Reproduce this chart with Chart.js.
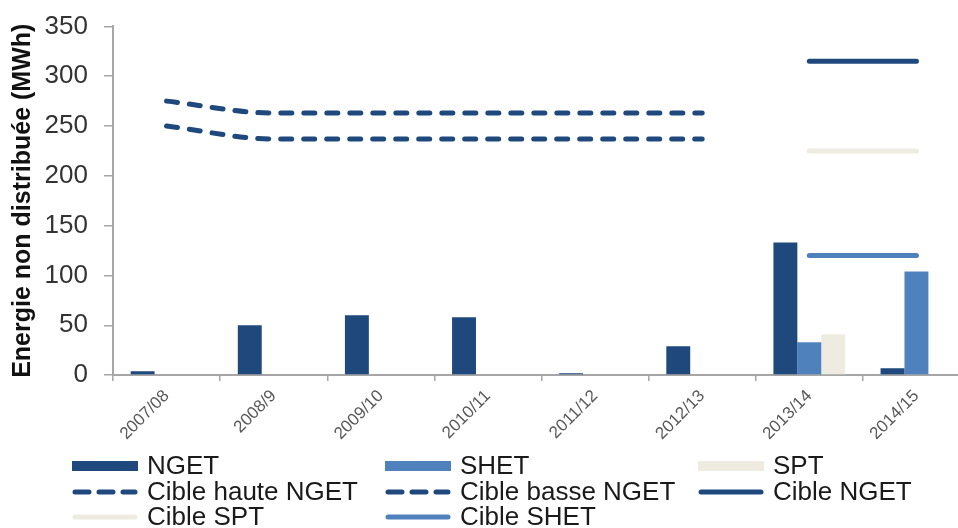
<!DOCTYPE html>
<html>
<head>
<meta charset="utf-8">
<script src="https://cdn.jsdelivr.net/npm/chart.js@4.4.0/dist/chart.umd.min.js"></script>
<style>
  html, body { margin: 0; padding: 0; background: #fff; overflow: hidden; }
  #wrap { width: 958px; height: 528px; overflow: hidden; }
</style>
</head>
<body>
<div id="wrap"><canvas id="graf" width="970" height="528"></canvas></div>
<script>
// categories (years)
const annees = ["2007/08", "2008/9", "2009/10", "2010/11", "2011/12", "2012/13", "2013/14", "2014/15"]

// energie non distribuee (MWh)
const ngetVals = [4, 50, 60, 58, 2, 29, 133, 7]
const shetVals = [0, 0, 0, 0, 0, 0, 33, 104]
const sptVals  = [0, 0, 0, 0, 0, 0, 41, 0]

// targets
const cibleHauteNget = [275, 263, 263, 263, 263, 263, null, null]
const cibleBasseNget = [250, 237, 237, 237, 237, 237, null, null]
const cibleNget = [null, null, null, null, null, null, 315, 315]
const cibleSpt  = [null, null, null, null, null, null, 225, 225]
const cibleShet = [null, null, null, null, null, null, 120, 120]

const yTicks = [0, 50, 100, 150, 200, 250, 300, 350]

const bleuFonce = "#1F497D"
const bleuClair = "#4F81BD"
const beige = "#EEECE1"
const gris = "#A6A6A6"
const police = "'Liberation Sans', Arial, sans-serif"

// legend drawn in 3 columns, like the original
const legendeColonnes = {
    id: "legendeColonnes",
    afterDraw(chart) {
        const ctx = chart.ctx
        const colX = [72, 385, 698]
        const rowY = [466, 492, 517]
        const sampleW = 66
        ctx.save()
        ctx.font = "26px " + police
        ctx.textBaseline = "middle"
        chart.data.datasets.forEach((ds, i) => {
            const x = colX[i % 3]
            const y = rowY[Math.floor(i / 3)]
            if (ds.type === "line") {
                ctx.strokeStyle = ds.borderColor
                ctx.lineWidth = 5
                ctx.lineCap = "round"
                ctx.setLineDash(ds.borderDash ? [14, 10] : [])
                ctx.beginPath()
                ctx.moveTo(x + 3, y)
                ctx.lineTo(x + sampleW - 3, y)
                ctx.stroke()
                ctx.setLineDash([])
            } else {
                ctx.fillStyle = ds.backgroundColor
                ctx.fillRect(x, y - 5, sampleW, 10)
            }
            ctx.fillStyle = "#1a1a1a"
            ctx.fillText(ds.label, x + 75, y + 1)
        })
        ctx.restore()
    }
}

const ligne = (label, data, color, dash) => ({
    type: "line",
    label: label,
    data: data,
    borderColor: color,
    backgroundColor: color,
    borderWidth: 5,
    borderDash: dash ? [11, 12] : undefined,
    borderCapStyle: "round",
    pointRadius: 0,
    cubicInterpolationMode: "monotone",
    spanGaps: false,
    fill: false
})

const CGraf = document.getElementById("graf")
new Chart(CGraf, {
    type: "bar",
    data: {
        labels: annees,
        datasets: [
            { label: "NGET", data: ngetVals, backgroundColor: bleuFonce, barPercentage: 1, categoryPercentage: 0.67 },
            { label: "SHET", data: shetVals, backgroundColor: bleuClair, barPercentage: 1, categoryPercentage: 0.67 },
            { label: "SPT", data: sptVals, backgroundColor: beige, barPercentage: 1, categoryPercentage: 0.67 },
            ligne("Cible haute NGET", cibleHauteNget, bleuFonce, true),
            ligne("Cible basse NGET", cibleBasseNget, bleuFonce, true),
            ligne("Cible NGET", cibleNget, bleuFonce, false),
            ligne("Cible SPT", cibleSpt, beige, false),
            ligne("Cible SHET", cibleShet, bleuClair, false)
        ]
    },
    options: {
        responsive: false,
        animation: false,
        layout: { padding: { left: 2, right: 0, top: 0, bottom: 79 } },
        plugins: {
            legend: { display: false },
            tooltip: { enabled: false }
        },
        scales: {
            x: {
                grid: { drawOnChartArea: false, color: gris, tickLength: 6, lineWidth: 1.5 },
                border: { color: gris, width: 2 },
                ticks: {
                    font: { family: police, size: 17 },
                    color: "#595959",
                    minRotation: 45,
                    maxRotation: 45,
                    padding: 5
                }
            },
            y: {
                min: 0,
                max: 350,
                afterBuildTicks: axis => { axis.ticks = yTicks.map(v => ({ value: v })) },
                afterFit: axis => { axis.width = 111 },
                grid: { drawOnChartArea: false, color: gris, tickLength: 9, lineWidth: 1.5 },
                border: { color: gris, width: 2 },
                ticks: {
                    font: { family: police, size: 26, lineHeight: 0.8 },
                    color: "#333333",
                    padding: 16
                },
                title: {
                    display: true,
                    text: "Energie non distribuée (MWh)",
                    font: { family: police, size: 25, weight: "bold" },
                    color: "#111111",
                    padding: { top: 6, bottom: 6 }
                }
            }
        }
    },
    plugins: [legendeColonnes]
})
</script>
</body>
</html>
